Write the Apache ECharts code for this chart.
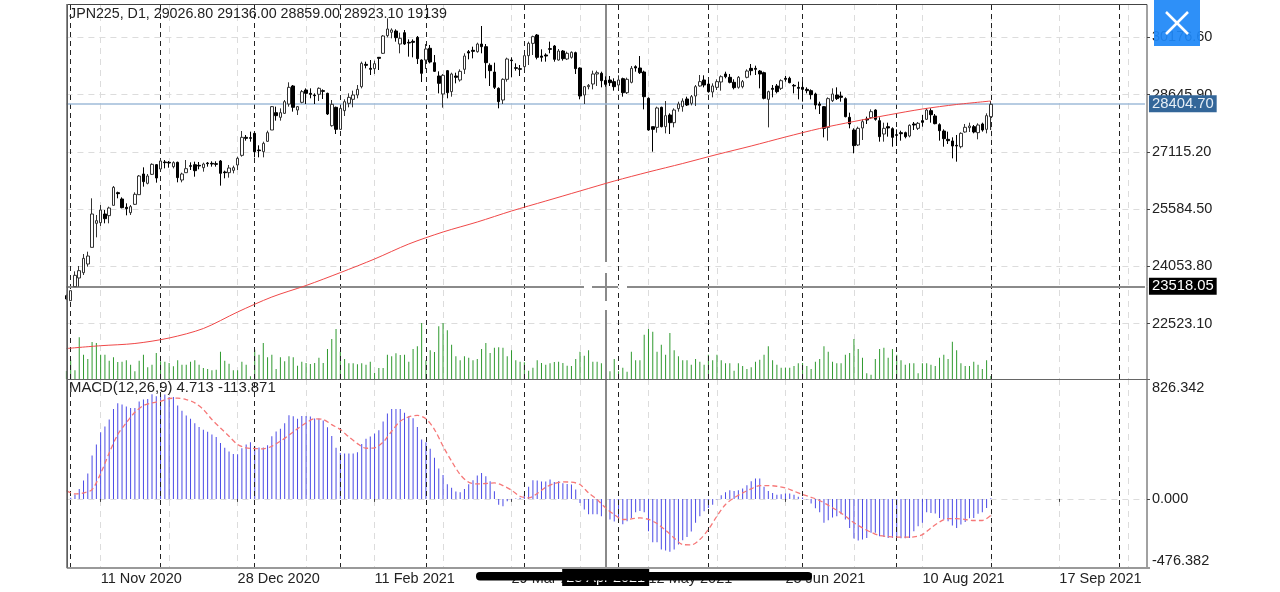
<!DOCTYPE html>
<html><head><meta charset="utf-8">
<style>html,body{margin:0;padding:0;background:#fff}#c{width:1280px;height:592px}</style>
<script src="https://cdn.jsdelivr.net/npm/echarts@6/dist/echarts.min.js"></script>
</head><body><div id="c"></div>
<script>
// one row per bar: open, high, low, close
const ohlcRows = [
[23268,23300,23150,23179],[23134,23402,23134,23402],[23509,23919,23509,23812],[23741,24062,23509,23937],[23883,24383,23821,24267],
[24115,24445,24044,24329],[24561,25873,24561,25453],[25204,25427,24829,25275],[25221,25694,25132,25560],[25453,25560,25204,25328],
[25409,25650,25204,25614],[25685,26203,25685,26167],[26024,26051,25873,25998],[25855,25899,25605,25623],[25632,25739,25418,25596],
[25489,25694,25427,25650],[25712,26033,25694,25980],[25971,26497,25971,26470],[26524,26702,26185,26319],[26274,26524,26247,26470],
[26515,26809,26497,26782],[26774,26791,26292,26417],[26658,26925,26631,26872],[26845,26898,26675,26827],[26836,26872,26693,26818],
[26720,26863,26675,26827],[26836,26854,26301,26426],[26363,26559,26301,26524],[26559,26898,26559,26666],[26747,26836,26631,26729],
[26773,26854,26452,26613],[26756,26845,26649,26738],[26693,26827,26586,26791],[26818,26845,26720,26800],[26809,26863,26720,26791],
[26800,26863,26720,26782],[26872,26898,26212,26542],[26577,26613,26408,26559],[26559,26765,26426,26684],[26622,26747,26542,26693],
[26765,26988,26631,26943],[27023,27674,26988,27505],[27505,27567,27416,27478],[27496,27657,27389,27478],[27612,27630,26970,27121],
[27166,27291,26970,27148],[27121,27389,26970,27344],[27398,27683,27380,27630],[27701,28343,27701,28326],[28165,28326,27951,28085],
[28040,28281,27951,28165],[28147,28504,28129,28459],[28397,28977,28326,28843],[28879,28905,28192,28308],[28236,28343,28103,28326],
[28442,28772,28415,28727],[28772,28816,28397,28682],[28682,28816,28549,28655],[28638,28682,28397,28620],[28656,28843,28477,28816],
[28754,28789,28531,28736],[28682,28700,28103,28129],[27817,28504,27790,28388],[28308,28326,27594,27719],[27719,28308,27701,28281],
[28219,28522,28076,28459],[28415,28682,28308,28575],[28522,28754,28308,28638],[28638,28905,28549,28789],[28861,29530,28816,29485],
[29458,29530,29351,29432],[29351,29574,29173,29325],[29342,29557,29200,29476],[29646,29646,29307,29619],[29753,30243,29735,30217],
[30226,30689,30181,30404],[30315,30422,30154,30377],[30350,30395,30065,30172],[30002,30306,29753,30154],[30306,30377,29976,30002],
[30047,30127,29664,30029],[30074,30127,29646,30047],[30181,30217,29467,29610],[29574,29592,28986,29218],[29574,30002,29334,29869],
[29887,29976,29485,29521],[29503,29708,29253,29271],[29146,29271,28682,28950],[28665,29200,28299,29164],[29289,29307,28549,28700],
[28727,29235,28593,29200],[29146,29235,28950,29111],[29039,29324,28995,29271],[29325,29753,29200,29681],[29797,29842,29592,29762],
[29833,29931,29619,29806],[29797,30038,29771,30002],[30002,30484,29753,29931],[29931,30002,29084,29503],[29432,29485,28879,29289],
[29253,29503,28798,28843],[28816,28843,28281,28459],[28504,29084,28397,29057],[29057,29637,28995,29601],[29574,29646,29111,29557],
[29369,29485,29289,29351],[29342,29441,29146,29325],[29396,29708,29325,29690],[29690,30065,29441,30020],[30020,30226,29708,30199],
[30243,30270,29592,29646],[29681,29860,29530,29646],[29708,29753,29530,29681],[29878,30065,29753,29860],[29949,29976,29530,29592],
[29574,29869,29557,29815],[29815,29842,29557,29610],[29601,29797,29574,29753],[29646,29806,29610,29780],[29771,29797,29200,29342],
[29360,29378,28522,28611],[28638,28879,28397,28861],[28861,28932,28789,28896],[28932,29289,28789,29200],[29200,29289,28879,29235],
[29218,29262,28843,29021],[29026.8,29136,28859,28923.1],[29039,29146,28879,28968],[28995,29084,28754,28861],[28905,29164,28816,29039],
[29075,29102,28593,28700],[28700,29102,28665,29057],[28977,29414,28950,29351],[29396,29432,29262,29360],[29360,29681,29200,29235],
[29253,29289,28254,28593],[28549,28575,27683,27701],[27790,27790,27121,27719],[27772,28326,27630,28290],[28308,28326,27772,27790],
[27790,28477,27612,28085],[28103,28147,27594,27897],[27897,28281,27772,28236],[28272,28459,28192,28397],[28326,28549,28192,28477],
[28531,28593,28343,28370],[28415,28638,28361,28593],[28611,28905,28343,28861],[28879,29173,28861,28995],[29039,29164,28843,28905],
[28932,29039,28700,28727],[28718,28950,28575,28879],[28843,29057,28772,28995],[28986,29164,28754,29128],[29200,29262,29084,29128],
[29111,29200,28950,28977],[28977,29057,28789,28834],[28843,29146,28807,29111],[28861,29039,28816,28995],[29111,29324,29084,29280],
[29351,29467,29164,29289],[29351,29423,29173,29325],[29280,29307,28816,29200],[29235,29262,28522,28549],[28522,28754,27772,28727],
[28816,28905,28575,28789],[28879,28932,28682,28727],[28816,29057,28772,29021],[29084,29146,28995,29057],[29084,29128,28950,28968],
[28896,28932,28682,28879],[28843,28995,28522,28816],[28843,28995,28459,28789],[28789,28843,28682,28754],[28754,28789,28522,28647],
[28665,28700,28254,28370],[28397,28459,28129,28361],[28326,28343,27505,27746],[27772,28575,27416,28540],[28486,28816,28450,28665],
[28638,28843,28504,28540],[28611,28727,28459,28575],[28540,28575,28040,28058],[28040,28165,27746,27862],[27701,27746,27077,27282],
[27300,27790,27273,27746],[27755,27987,27434,27924],[27996,28058,27862,27969],[28031,28254,27996,28192],[28236,28254,27951,27987],
[27951,28040,27389,27523],[27594,27897,27389,27746],[27790,27897,27523,27755],[27737,27772,27255,27505],[27576,27719,27273,27558],
[27630,27683,27416,27603],[27630,27657,27478,27523],[27541,27853,27505,27826],[27862,27915,27701,27835],[27746,27915,27701,27880],
[27951,28103,27790,27906],[27987,28290,27969,28236],[28219,28281,27897,28111],[28076,28129,27853,27871],[27844,27880,27416,27683],
[27674,27719,27255,27469],[27451,27657,27327,27416],[27407,27505,26943,27273],[27291,27568,26854,27273],[27255,27639,27211,27612],
[27648,27862,27630,27773],[27764,27897,27648,27808],[27790,27835,27612,27648],[27630,27880,27452,27835],[27862,27897,27657,27701],
[27719,28147,27612,28085],[28058,28477,27701,28388]
];
const volumes = [
8000,19300,8700,41700,24300,20000,37000,36000,24300,24300,18300,21700,17000,17300,18700,14300,7700,18300,24300,11700,
14300,26000,17700,17300,16000,12700,18700,14300,14300,17300,18700,14300,11000,10000,8700,9300,27300,18300,15300,8700,
8700,17300,14300,2700,29300,24300,36000,21700,24300,10000,21700,17700,22700,21700,13300,17300,16000,15000,16000,21300,
16000,30000,40000,50000,27300,20000,15700,15700,14700,15700,14300,17300,6000,11000,11000,24300,22700,25700,24000,24300,
17300,30000,32700,56000,18700,28700,27000,52700,56000,48700,34300,22700,18700,22700,21300,18700,20000,30000,36000,26000,
31300,31700,31300,22700,28700,18700,17300,16700,8300,11300,18700,16000,14300,15700,17000,17300,16000,13300,13000,20000,
27300,23300,28700,17300,17300,15700,19139,7700,20000,7700,11300,7300,27300,18700,18700,44300,50000,47300,27300,34300,
24300,46000,28700,22700,18700,18700,14300,20000,17300,14300,24300,18700,24300,18700,15700,15700,8300,15700,13000,10000,
11700,17300,19300,24300,32700,18700,14300,11300,11300,11300,13000,15700,16000,13000,10000,17300,20000,32700,27300,17300,
15700,15700,24300,26000,40000,30000,21300,5700,4300,20000,30000,31300,21300,30000,24300,18700,14300,15700,15700,5700,
15700,15700,14300,13000,21300,24300,20000,37300,28700,15700,13000,13000,17300,14300,10000,18700,3000
];
const macdBars = [
0,7,30,69,126,175,299,375,460,499,547,620,660,650,637,627,627,671,685,689,
722,708,719,719,703,703,643,607,575,552,522,496,476,462,444,427,386,352,326,310,
308,349,375,391,363,354,354,370,432,464,483,522,577,570,552,572,572,568,554,554,
540,494,434,352,317,313,313,313,322,379,414,430,450,473,533,588,620,620,620,593,
570,556,496,409,391,345,283,209,165,101,76,51,46,69,101,129,161,179,156,122,
53,-41,-51,-16,-5,2,7,30,83,129,126,119,119,133,117,122,108,103,99,64,
-28,-74,-106,-106,-106,-120,-130,-142,-156,-147,-175,-154,-131,-92,-83,-92,-223,-299,-299,-349,
-356,-365,-349,-315,-285,-262,-225,-165,-119,-85,-62,-41,-5,25,46,60,55,60,71,94,
122,140,140,83,55,41,28,32,37,37,28,14,9,-5,-32,-64,-92,-165,-147,-129,
-119,-106,-142,-200,-273,-287,-280,-269,-234,-234,-257,-262,-269,-269,-269,-271,-271,-269,-223,-188,
-165,-92,-97,-101,-131,-142,-154,-184,-200,-177,-159,-133,-131,-103,-92,-62,4.713
];
// signal line, read every 2nd bar
const signalEvery2 = [
57,34,41,64,175,317,444,524,597,643,662,673,692,694,685,662,616,547,489,432,
375,352,347,345,363,398,439,483,524,552,547,512,478,427,381,349,352,391,466,535,
565,575,552,478,363,260,168,115,103,106,110,92,60,18,7,37,
80,106,117,115,99,41,-5,-62,-108,-142,-138,-131,-142,-170,-216,-269,-315,-317,-280,-211,-119,-39,7,41,
69,92,92,87,76,53,30,11,-11,-44,-78,-119,-165,-200,-230,-253,-260,-264,-264,-262,-246,-200,-159,-136,-136,-142,-149,-149,-113.871
];
// long moving average, read every 8th bar
const maEvery8 = [
21854,21929,21988,22135,22389,22831,23232,23540,23885,24249,24651,24972,25239,25534,
25801,26069,26336,26577,26805,27046,27273,27514,27741,27929,28103,28263,28384,28477
];
const priceTicks = [22523.10,24053.80,25584.50,27115.20,28645.90,30176.60];
const macdTicks = [-476.382,0,826.342];
const labelIdx = [8,40,72,104,136,168,200,232];
const labelText = ['11 Nov 2020','28 Dec 2020','11 Feb 2021','29 Mar 2021','12 May 2021','25 Jun 2021','10 Aug 2021','17 Sep 2021'];
const monthSeparators = [1,22,44,64,84,107,129,150,172,194,216,246];
const header = 'JPN225, D1, 29026.80 29136.00 28859.00 28923.10 19139';
const macdHeader = 'MACD(12,26,9) 4.713 -113.871';
const bidPrice = 28404.70, crossPrice = 23518.05, crossIdx = 126, crossDate = '28 Apr 2021';
const categories = Array.from({length:253},(_,i)=>String(i));

const FONT = 'Liberation Sans, Arial, sans-serif', FS = 14.5, TXT = '#222';
const sparse = (vals, step) => { const a = new Array(217).fill(null); vals.forEach((v,k)=>{a[k*step]=v;}); return a; };
const isGrid = i => i % 16 === 8;
const isLabel = i => labelIdx.indexOf(+i) >= 0;
const sepLines = monthSeparators.map(i => ({xAxis:i, lineStyle:{color:'#222',type:[5,4],width:1}}));
const crossV = {xAxis:crossIdx, lineStyle:{color:'#8a8a8a',type:'solid',width:2}};
const gray = {color:'#dcdcdc',type:[6,5],width:1};
const baseX = {type:'category',data:categories,boundaryGap:false,axisLine:{show:false},
  splitLine:{show:true,interval:(i)=>isGrid(i),lineStyle:gray}};

const chart = echarts.init(document.getElementById('c'),null,{renderer:'canvas'});
chart.setOption({
  animation:false, backgroundColor:'#fff',
  title:[
    {text:header,left:69,top:7,padding:0,textStyle:{fontFamily:FONT,fontSize:14.25,fontWeight:'normal',color:TXT}},
    {text:macdHeader,left:69,top:380.5,padding:0,textStyle:{fontFamily:FONT,fontSize:14.9,fontWeight:'normal',color:TXT}}
  ],
  grid:[
    {left:66.4,top:4,width:1078.56,height:375},
    {left:66.4,top:379,width:1078.56,height:189}
  ],
  xAxis:[
    Object.assign({},baseX,{gridIndex:0,axisTick:{show:false},axisLabel:{show:false}}),
    Object.assign({},baseX,{gridIndex:1,
      axisTick:{show:true,length:3,interval:(i)=>isLabel(i),lineStyle:{color:'#444'}},
      axisLabel:{show:true,interval:(i)=>isLabel(i),align:'left',margin:3,fontFamily:FONT,fontSize:FS,color:TXT,
        formatter:(v)=>labelText[labelIdx.indexOf(+v)]||''}})
  ],
  yAxis:[
    {gridIndex:0,position:'right',offset:2,min:21038,max:31073,scale:true,axisLine:{show:false},
      axisTick:{show:true,length:3,lineStyle:{color:'#444'},customValues:priceTicks},
      axisLabel:{show:true,margin:5,padding:[2,0,0,0],fontFamily:FONT,fontSize:FS,color:TXT,customValues:priceTicks,formatter:(v)=>v.toFixed(2)},
      splitLine:{show:true,lineStyle:gray}},
    {gridIndex:0,show:false,min:0,max:375000,splitLine:{show:false}},
    {gridIndex:1,position:'right',offset:2,min:-476.382,max:826.342,axisLine:{show:false},
      axisTick:{show:true,length:3,lineStyle:{color:'#444'},customValues:macdTicks},
      axisLabel:{show:true,margin:5,padding:[1,0,0,0],fontFamily:FONT,fontSize:FS,color:TXT,customValues:macdTicks,
        verticalAlignMinLabel:'bottom',verticalAlignMaxLabel:'top',formatter:(v)=>v.toFixed(3)},
      splitLine:{show:true,lineStyle:gray}}
  ],
  series:[
    {type:'bar',name:'Volume',xAxisIndex:0,yAxisIndex:1,data:volumes,barWidth:1,itemStyle:{color:'#2f9a2f'},z:2,silent:true},
    {type:'candlestick',name:'JPN225',xAxisIndex:0,yAxisIndex:0,barWidth:3,z:4,silent:true,
      data:ohlcRows.map(r=>[r[0],r[3],r[2],r[1]]),
      itemStyle:{color:'#fff',color0:'#000',borderColor:'#333',borderColor0:'#000',borderWidth:1},
      markLine:{silent:true,symbol:'none',animation:false,z:3,
        label:{show:false},
        data:[...sepLines,crossV,
          {yAxis:bidPrice,lineStyle:{color:'#9fbbd8',type:'solid',width:1.5},
            label:{show:true,position:'end',distance:4,formatter:bidPrice.toFixed(2),fontFamily:FONT,fontSize:14.8,color:'#e6eef6',backgroundColor:'#336699',padding:[1,3]}},
          {yAxis:crossPrice,lineStyle:{color:'#8a8a8a',type:'solid',width:2},
            label:{show:true,position:'end',distance:4,formatter:crossPrice.toFixed(2),fontFamily:FONT,fontSize:14.8,color:'#fff',backgroundColor:'#000',padding:[1,3]}}
        ]}},
    {type:'line',name:'MA',xAxisIndex:0,yAxisIndex:0,data:sparse(maEvery8,8),connectNulls:true,smooth:0.3,showSymbol:false,
      lineStyle:{color:'#f04848',width:1},z:5,silent:true},
    {type:'bar',name:'MACD',xAxisIndex:1,yAxisIndex:2,data:macdBars,barWidth:1,itemStyle:{color:'#4a4ae6'},z:2,silent:true,
      markLine:{silent:true,symbol:'none',animation:false,z:3,label:{show:false},
        data:[...sepLines,Object.assign({},crossV,{
          label:{show:true,position:'start',distance:1,formatter:crossDate,fontFamily:FONT,fontSize:FS,color:'#fff',backgroundColor:'#000',padding:[1,4]}})]}},
    {type:'line',name:'Signal',xAxisIndex:1,yAxisIndex:2,data:sparse(signalEvery2,2),connectNulls:true,smooth:0.3,showSymbol:false,
      lineStyle:{color:'#f67878',width:1.3,type:[5,3]},z:5,silent:true}
  ],
  graphic:[
    {type:'rect',z:50,silent:true,shape:{x:67.5,y:4.5,width:1079.5,height:564},style:{fill:'none',stroke:'#444',lineWidth:1}},
    {type:'line',z:50,silent:true,shape:{x1:67,y1:379.5,x2:1150,y2:379.5},style:{stroke:'#666',lineWidth:1}},
    {type:'line',z:50,silent:true,shape:{x1:67,y1:568,x2:1150,y2:568},style:{stroke:'#999',lineWidth:2}},
    {type:'line',z:50,silent:true,shape:{x1:67,y1:4,x2:67,y2:568},style:{stroke:'#666',lineWidth:1.5}},
    {type:'rect',z:60,silent:true,shape:{x:584,y:285.5,width:8,height:3},style:{fill:'#fff'}},
    {type:'rect',z:60,silent:true,shape:{x:618,y:285.5,width:9,height:3},style:{fill:'#fff'}},
    {type:'rect',z:60,silent:true,shape:{x:604.5,y:262,width:3,height:11},style:{fill:'#fff'}},
    {type:'rect',z:60,silent:true,shape:{x:604.5,y:301,width:3,height:9},style:{fill:'#fff'}},
    {type:'rect',z:70,silent:true,shape:{x:1154,y:0,width:46,height:46},style:{fill:'rgba(30,136,248,0.93)'}},
    {type:'line',z:71,silent:true,shape:{x1:1166,y1:12,x2:1188,y2:34},style:{stroke:'#fff',lineWidth:2.5}},
    {type:'line',z:71,silent:true,shape:{x1:1188,y1:12,x2:1166,y2:34},style:{stroke:'#fff',lineWidth:2.5}},
    {type:'rect',z:80,silent:true,shape:{x:476,y:572,width:336,height:8.5,r:4},style:{fill:'#000'}}
  ]
});
</script></body></html>
